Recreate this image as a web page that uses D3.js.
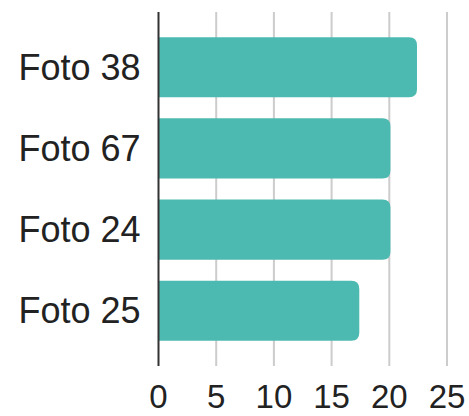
<!DOCTYPE html>
<html>
<head>
<meta charset="utf-8">
<script src="https://cdn.jsdelivr.net/npm/d3@7"></script>
<style>
  html, body { margin: 0; padding: 0; background: #fff; }
  svg text { font-family: "Liberation Sans", Arial, sans-serif; fill: #222; }
</style>
</head>
<body>
<div id="vis"></div>
<script>
// chart data
const categories = ["Foto 38", "Foto 67", "Foto 24", "Foto 25"];
const values = [22.4, 20.1, 20.1, 17.4];
const xTicks = [0, 5, 10, 15, 20, 25];

const width = 469, height = 416;
const margin = { top: 12, right: 22, bottom: 50, left: 158.5 };

const svg = d3.select("#vis").append("svg")
    .attr("width", width)
    .attr("height", height);

const x = d3.scaleLinear()
    .domain([0, 25])
    .range([margin.left, width - margin.right]);

const y = d3.scaleBand()
    .domain(categories)
    .range([margin.top, height - margin.bottom])
    .paddingInner(0.26)
    .paddingOuter(0.31);

// gridlines
svg.append("g")
    .selectAll("line")
    .data(xTicks.filter(d => d > 0))
    .enter().append("line")
    .attr("x1", d => x(d))
    .attr("x2", d => x(d))
    .attr("y1", margin.top)
    .attr("y2", height - margin.bottom)
    .attr("stroke", "#cccccc")
    .attr("stroke-width", 2);

// bars, rounded on the right end only
function barPath(d, i) {
    const x0 = x(0), x1 = x(d), y0 = y(categories[i]), h = y.bandwidth();
    const r = Math.min(8, (x1 - x0) / 2);
    return "M" + x0 + "," + y0 +
        "H" + (x1 - r) +
        "Q" + x1 + "," + y0 + " " + x1 + "," + (y0 + r) +
        "V" + (y0 + h - r) +
        "Q" + x1 + "," + (y0 + h) + " " + (x1 - r) + "," + (y0 + h) +
        "H" + x0 + "Z";
}

svg.append("g")
    .selectAll("path")
    .data(values)
    .enter().append("path")
    .attr("d", barPath)
    .attr("fill", "#4dbab1");

// axis line
svg.append("line")
    .attr("x1", x(0))
    .attr("x2", x(0))
    .attr("y1", margin.top)
    .attr("y2", height - margin.bottom)
    .attr("stroke", "#333")
    .attr("stroke-width", 2);

// category labels
svg.append("g")
    .selectAll("text")
    .data(categories)
    .enter().append("text")
    .attr("x", x(0) - 18)
    .attr("y", d => y(d) + y.bandwidth() / 2 + 12.5)
    .attr("text-anchor", "end")
    .attr("font-size", "36px")
    .text(d => d);

// x tick labels
svg.append("g")
    .selectAll("text")
    .data(xTicks)
    .enter().append("text")
    .attr("x", d => x(d))
    .attr("y", 408)
    .attr("text-anchor", "middle")
    .attr("font-size", "33px")
    .text(d => d);
</script>
</body>
</html>
